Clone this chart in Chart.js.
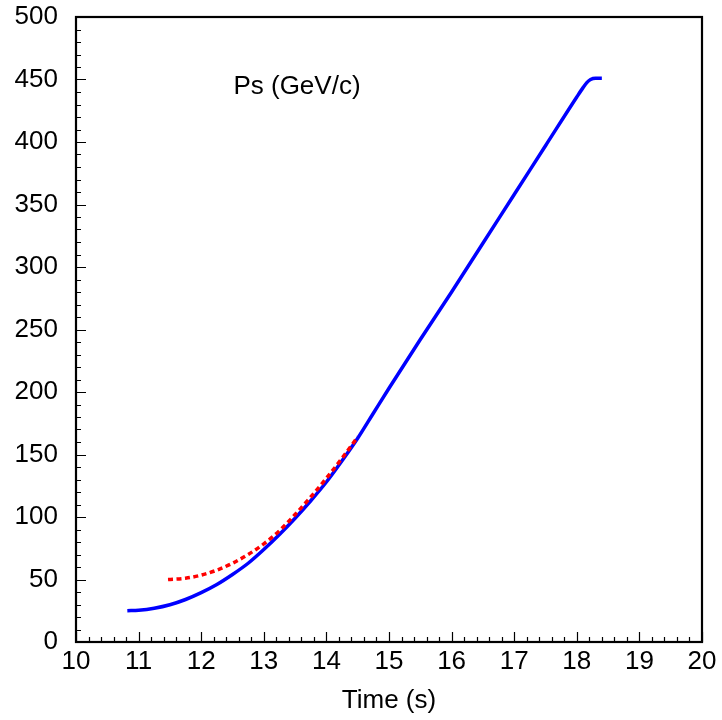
<!DOCTYPE html>
<html>
<head>
<meta charset="utf-8">
<script src="https://cdn.jsdelivr.net/npm/chart.js@4/dist/chart.umd.min.js"></script>
<style>
  body { margin: 0; background: #fff; }
  canvas { display: block; }
</style>
</head>
<body>
<canvas id="chart" width="722" height="720"></canvas>
<script>
// --- data ---
const blueTime = [10.82, 11.0, 11.25, 11.5, 11.75, 12.0, 12.25, 12.5, 12.75, 13.0, 13.25, 13.5, 13.75, 14.0, 14.25, 14.5, 14.75, 15.0, 15.5, 16.0, 16.5, 17.0, 17.5, 18.0, 18.1, 18.16, 18.22, 18.3, 18.4];
const bluePs   = [25, 25.4, 27, 29.8, 34, 39.5, 46, 54, 63, 74, 86, 99, 113, 128, 145, 163, 183, 203, 242, 280, 319, 358, 397, 436, 443.5, 447.5, 450, 451, 451];

const redTime = [11.47, 11.75, 12.0, 12.25, 12.5, 12.75, 13.0, 13.25, 13.5, 13.75, 14.0, 14.25, 14.5];
const redPs   = [50, 51, 53.5, 57.5, 63, 70, 78.5, 89, 102, 116, 131, 147, 164];

const xTicksMajor = [10, 11, 12, 13, 14, 15, 16, 17, 18, 19, 20];
const yTicksMajor = [0, 50, 100, 150, 200, 250, 300, 350, 400, 450, 500];

const curveLabel = 'Ps (GeV/c)';
const xTitle = 'Time (s)';

Chart.defaults.font.family = "'Liberation Sans', Arial, sans-serif";
Chart.defaults.color = '#000';

const toPoints = (xs, ys) => xs.map((x, i) => ({ x: x, y: ys[i] }));

// frame + inward ticks + the curve label
const framePlugin = {
  id: 'frame',
  afterDraw(chart) {
    const { ctx, chartArea: a, scales: { x, y } } = chart;
    ctx.save();
    ctx.strokeStyle = '#000';
    ctx.lineWidth = 1.2;
    ctx.beginPath();
    // minor / major ticks on x (every 0.2)
    for (let i = 0; i <= 50; i++) {
      const v = 10 + i * 0.2;
      const px = Math.round(x.getPixelForValue(v)) + 0.5;
      const len = i % 5 === 0 ? 10 : 5;
      ctx.moveTo(px, a.bottom);
      ctx.lineTo(px, a.bottom - len);
    }
    // minor / major ticks on y (every 10)
    for (let i = 0; i <= 50; i++) {
      const v = i * 10;
      const py = Math.round(y.getPixelForValue(v)) + 0.5;
      const len = i % 5 === 0 ? 10 : 5;
      ctx.moveTo(a.left, py);
      ctx.lineTo(a.left + len, py);
    }
    ctx.stroke();

    ctx.lineWidth = 2.2;
    ctx.strokeRect(a.left, a.top, a.right - a.left, a.bottom - a.top);

    ctx.fillStyle = '#000';
    ctx.font = "26px 'Liberation Sans', Arial, sans-serif";
    ctx.textAlign = 'center';
    ctx.textBaseline = 'middle';
    ctx.fillText(curveLabel, x.getPixelForValue(13.53), y.getPixelForValue(444));
    ctx.restore();
  }
};

new Chart(document.getElementById('chart'), {
  type: 'line',
  data: {
    datasets: [
      {
        data: toPoints(redTime, redPs),
        borderColor: '#ff0000',
        borderWidth: 3.5,
        borderDash: [5, 3.5],
        pointRadius: 0,
        cubicInterpolationMode: 'monotone',
        fill: false
      },
      {
        data: toPoints(blueTime, bluePs),
        borderColor: '#0000ff',
        borderWidth: 3.5,
        pointRadius: 0,
        cubicInterpolationMode: 'monotone',
        fill: false
      }
    ]
  },
  options: {
    responsive: false,
    animation: false,
    layout: { padding: { left: 0, top: 17, right: 20, bottom: 0 } },
    plugins: {
      legend: { display: false },
      tooltip: { enabled: false }
    },
    scales: {
      x: {
        type: 'linear',
        min: 10,
        max: 20,
        grid: { display: false, drawTicks: false },
        border: { display: false },
        afterBuildTicks: s => { s.ticks = xTicksMajor.map(v => ({ value: v })); },
        ticks: { font: { size: 26 }, padding: 4, maxRotation: 0, autoSkip: false },
        title: { display: true, text: xTitle, font: { size: 26 }, padding: { top: 0, bottom: 4 } },
        afterFit: s => { s.height = 78; s.paddingLeft = 0; s.paddingRight = 0; }
      },
      y: {
        min: 0,
        max: 500,
        grid: { display: false, drawTicks: false },
        border: { display: false },
        afterBuildTicks: s => { s.ticks = yTicksMajor.map(v => ({ value: v })); },
        ticks: { font: { size: 26 }, padding: 18, autoSkip: false },
        afterFit: s => { s.width = 76; s.paddingTop = 0; s.paddingBottom = 0; }
      }
    }
  },
  plugins: [framePlugin]
});
</script>
</body>
</html>
